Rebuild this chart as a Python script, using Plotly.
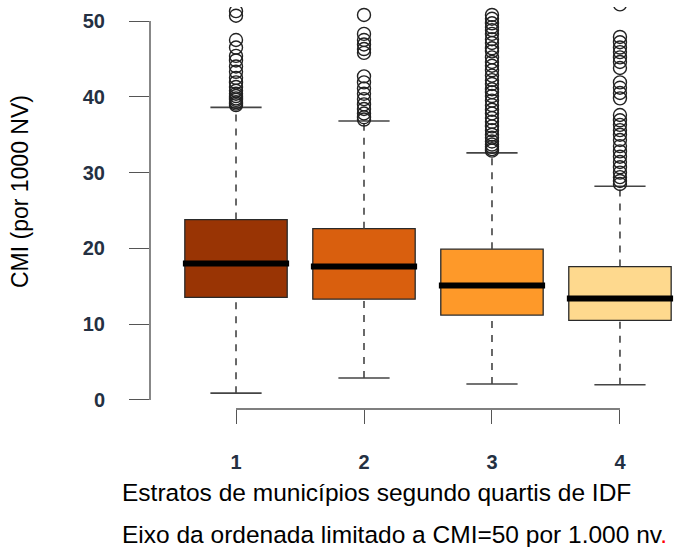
import plotly.graph_objects as go

# Strata of municipalities by IDF quartile
strata = [1, 2, 3, 4]
tick_labels = ["1", "2", "3", "4"]
fill_colors = ["#993404", "#D95F0E", "#FE9929", "#FED98E"]

# Box statistics (CMI per 1000 live births)
q1 = [13.55, 13.3, 11.2, 10.5]
median = [18.0, 17.6, 15.1, 13.4]
q3 = [23.8, 22.6, 19.9, 17.6]
whisker_low = [0.9, 2.9, 2.1, 2.0]
whisker_high = [38.6, 36.8, 32.6, 28.2]

# Outliers above the upper whisker, per stratum
outliers_1 = [51.3, 50.7, 47.5, 46.5, 45.4, 44.8, 44.0, 43.3, 42.5, 41.9, 41.3,
              40.8, 40.4, 40.1, 39.8, 39.6, 39.3, 39.1, 38.9]
outliers_2 = [50.8, 48.3, 47.5, 46.9, 46.3, 45.8, 42.7, 41.9, 41.1, 40.4, 39.7,
              39.0, 38.4, 37.8, 37.3, 37.0]
outliers_3 = [50.8, 50.3, 49.7, 49.2, 48.8, 48.3, 47.6, 47.1, 46.4, 46.0, 45.2,
              44.6, 44.1, 43.5, 42.8, 42.2, 41.7, 41.0, 40.6, 40.1, 39.5, 38.9,
              38.3, 37.8, 37.2, 36.7, 36.1, 35.6, 35.0, 34.6, 34.1, 33.7, 33.4,
              33.1, 32.9]
outliers_4 = [52.2, 47.9, 47.2, 46.5, 45.9, 45.2, 44.6, 43.8, 41.9, 41.2, 40.5,
              39.8, 37.6, 36.9, 36.3, 35.6, 35.0, 34.3, 33.5, 32.8, 32.1, 31.4,
              30.7, 30.0, 29.4, 28.9, 28.5]
outliers = [outliers_1, outliers_2, outliers_3, outliers_4]

y_ticks = [0, 10, 20, 30, 40, 50]

BOX_W = 0.8
CAP_W = 0.4
MED_W = 0.83
AX_COLOR = "#555555"
TICK_FONT = dict(family="Liberation Sans, Arial, sans-serif", size=20,
                 color="#243042", weight="bold")

fig = go.Figure()

for i, s in enumerate(strata):
    # dashed whiskers
    for lo, hi in ((q3[i], whisker_high[i]), (whisker_low[i], q1[i])):
        fig.add_trace(go.Scatter(
            x=[s, s], y=[lo, hi], mode="lines",
            line=dict(color="#444444", width=1.6, dash="7px,7px"),
            showlegend=False, hoverinfo="skip"))
    # whisker caps
    for v in (whisker_low[i], whisker_high[i]):
        fig.add_trace(go.Scatter(
            x=[s - CAP_W / 2, s + CAP_W / 2], y=[v, v], mode="lines",
            line=dict(color="#444444", width=1.6),
            showlegend=False, hoverinfo="skip"))
    # box body
    fig.add_trace(go.Box(
        x=[s], q1=[q1[i]], median=[median[i]], q3=[q3[i]],
        lowerfence=[q1[i]], upperfence=[q3[i]],
        width=BOX_W, fillcolor=fill_colors[i],
        line=dict(color="#2a2a2a", width=1.3),
        boxpoints=False, showlegend=False, hoverinfo="skip"))
    # thick median bar
    fig.add_trace(go.Scatter(
        x=[s - MED_W / 2, s + MED_W / 2], y=[median[i], median[i]], mode="lines",
        line=dict(color="#000000", width=6),
        showlegend=False, hoverinfo="skip"))
    # outliers
    fig.add_trace(go.Scatter(
        x=[s] * len(outliers[i]), y=outliers[i], mode="markers",
        marker=dict(symbol="circle-open", size=13, color="#222222",
                    line=dict(width=1.4, color="#222222")),
        showlegend=False, hoverinfo="skip"))

# axis lines spanning only the tick range
fig.add_shape(type="line", xref="paper", yref="y", x0=0, x1=0,
              y0=y_ticks[0], y1=y_ticks[-1], line=dict(color=AX_COLOR, width=1.4))
fig.add_shape(type="line", xref="x", yref="paper", x0=strata[0], x1=strata[-1],
              y0=0, y1=0, line=dict(color=AX_COLOR, width=1.4))

fig.update_layout(
    width=680, height=547,
    margin=dict(l=150, r=0, t=7, b=138),
    paper_bgcolor="white", plot_bgcolor="white",
    boxmode="overlay",
    xaxis=dict(range=[0.328, 4.469], tickvals=strata, ticktext=tick_labels,
               showgrid=False, zeroline=False, showline=False,
               ticks="outside", ticklen=14, tickwidth=1.4, tickcolor=AX_COLOR,
               ticklabelstandoff=21, tickfont=TICK_FONT),
    yaxis=dict(range=[-1.19, 51.85], tickvals=y_ticks,
               showgrid=False, zeroline=False, showline=False,
               ticks="outside", ticklen=20, tickwidth=1.4, tickcolor=AX_COLOR,
               ticklabelstandoff=20, tickfont=TICK_FONT),
)

TEXT_FONT = dict(family="Liberation Sans, Arial, sans-serif", size=24.5, color="#000000")

fig.add_annotation(text="CMI (por 1000 NV)", xref="paper", yref="paper",
                   x=-0.245, y=0.54, xanchor="center", yanchor="middle",
                   textangle=-90, showarrow=False,
                   font=dict(family="Liberation Sans, Arial, sans-serif", size=23,
                             color="#000000"))
fig.add_annotation(text="Estratos de municípios segundo quartis de IDF",
                   xref="paper", yref="paper", x=-0.0566, y=-0.207,
                   xanchor="left", yanchor="middle", showarrow=False, font=TEXT_FONT)
fig.add_annotation(text="Eixo da ordenada limitado a CMI=50 por 1.000 nv<span style='color:red'>.</span>",
                   xref="paper", yref="paper", x=-0.0566, y=-0.312,
                   xanchor="left", yanchor="middle", showarrow=False, font=TEXT_FONT)

fig.write_html("out.html")
